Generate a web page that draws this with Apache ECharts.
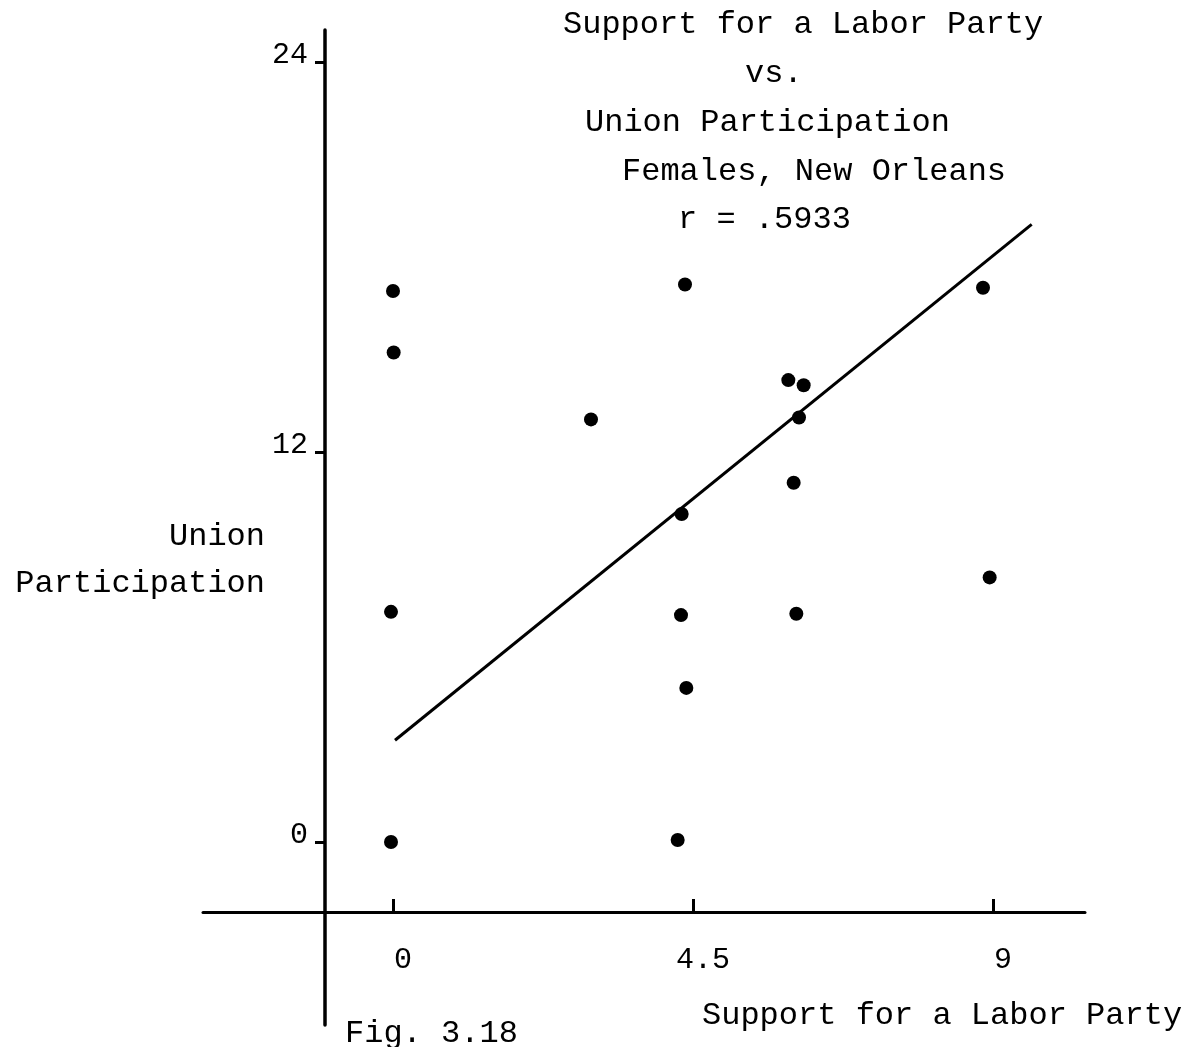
<!DOCTYPE html>
<html>
<head>
<meta charset="utf-8">
<title>Support for a Labor Party vs. Union Participation</title>
<script src="https://cdn.jsdelivr.net/npm/echarts@6/dist/echarts.min.js"></script>
<style>
  html, body { margin: 0; padding: 0; background: #fff; }
  #chart { width: 1189px; height: 1047px; }
</style>
</head>
<body>
<div id="chart"></div>
<script>
// Support for a Labor Party (x) against Union Participation (y), one dot per respondent
const supportLabor = [0.0, 0.01, -0.03, -0.03, 4.38, 2.97, 4.33, 4.32, 4.40, 4.27, 5.93, 6.16, 6.09, 6.01, 6.05, 8.85, 8.95];
const unionPart    = [16.95, 15.06, 7.08, 0.0, 17.15, 13.0, 10.09, 6.98, 4.74, 0.06, 14.21, 14.05, 13.06, 11.05, 7.02, 17.05, 8.14];

// Least-squares fit line, drawn between its two end points
const fitX = [0.03, 9.58];
const fitY = [3.13, 19.0];

// Tick values and their labels
const xTicks = [0, 4.5, 9];
const yTicks = [0, 12, 24];

const titleLines = [
  'Support for a Labor Party',
  'vs.',
  'Union Participation',
  'Females, New Orleans',
  'r = .5933'
];
const titleLefts = [563, 745, 585, 622, 678];
const titleTops = [9, 58, 107, 156, 204];

const yName = ['Union', 'Participation'];
const xName = 'Support for a Labor Party';
const figNote = 'Fig. 3.18';

const FONT = "'Liberation Mono', 'Courier New', 'DejaVu Sans Mono', monospace";
const INK = '#000';

const points = supportLabor.map((x, i) => [x, unionPart[i]]);
const fitData = fitX.map((x, i) => [x, fitY[i]]);

const chart = echarts.init(document.getElementById('chart'), null, { renderer: 'canvas' });

const textStyle = { fontFamily: FONT, fontSize: 32, fontWeight: 'normal', color: INK };

chart.setOption({
  animation: false,
  backgroundColor: '#fff',
  title: titleLines.map((t, i) => ({
    text: t,
    left: titleLefts[i],
    top: titleTops[i],
    padding: 0,
    textStyle: textStyle
  })),
  grid: {
    left: 203,
    top: 30,
    width: 882,
    height: 995,
    containLabel: false,
    outerBoundsMode: 'none'
  },
  xAxis: {
    type: 'value',
    min: -2.85,
    max: 10.38,
    position: 'bottom',
    offset: -113,
    splitLine: { show: false },
    axisLine: { show: true, onZero: false, lineStyle: { color: INK, width: 3 } },
    axisTick: {
      show: true,
      inside: true,
      length: 13,
      customValues: xTicks,
      lineStyle: { color: INK, width: 3 }
    },
    axisLabel: {
      show: true,
      customValues: xTicks,
      margin: 33,
      padding: [0, 0, 0, 20],
      fontFamily: FONT,
      fontSize: 30,
      color: INK
    }
  },
  yAxis: {
    type: 'value',
    min: -5.63,
    max: 24.98,
    position: 'left',
    offset: -122,
    splitLine: { show: false },
    axisLine: { show: true, onZero: false, lineStyle: { color: INK, width: 3.5 } },
    axisTick: {
      show: true,
      inside: false,
      length: 10,
      customValues: yTicks,
      lineStyle: { color: INK, width: 3 }
    },
    axisLabel: {
      show: true,
      customValues: yTicks,
      margin: 17,
      verticalAlign: 'bottom',
      lineHeight: 14,
      fontFamily: FONT,
      fontSize: 30,
      color: INK
    }
  },
  graphic: [
    {
      type: 'text',
      right: 1189 - 265,
      top: 521,
      style: { text: yName[0], font: '32px ' + FONT, fill: INK, textAlign: 'right' }
    },
    {
      type: 'text',
      right: 1189 - 265,
      top: 568,
      style: { text: yName[1], font: '32px ' + FONT, fill: INK, textAlign: 'right' }
    },
    {
      type: 'text',
      left: 702,
      top: 1000,
      style: { text: xName, font: '32px ' + FONT, fill: INK }
    },
    {
      type: 'text',
      left: 345,
      top: 1018,
      style: { text: figNote, font: '32px ' + FONT, fill: INK }
    }
  ],
  series: [
    {
      name: 'Fit',
      type: 'line',
      data: fitData,
      showSymbol: false,
      symbol: 'none',
      silent: true,
      lineStyle: { color: INK, width: 3 },
      z: 2
    },
    {
      name: 'Respondents',
      type: 'scatter',
      data: points,
      symbol: 'circle',
      symbolSize: 14,
      itemStyle: { color: INK, opacity: 1 },
      z: 3
    }
  ]
});
</script>
</body>
</html>
